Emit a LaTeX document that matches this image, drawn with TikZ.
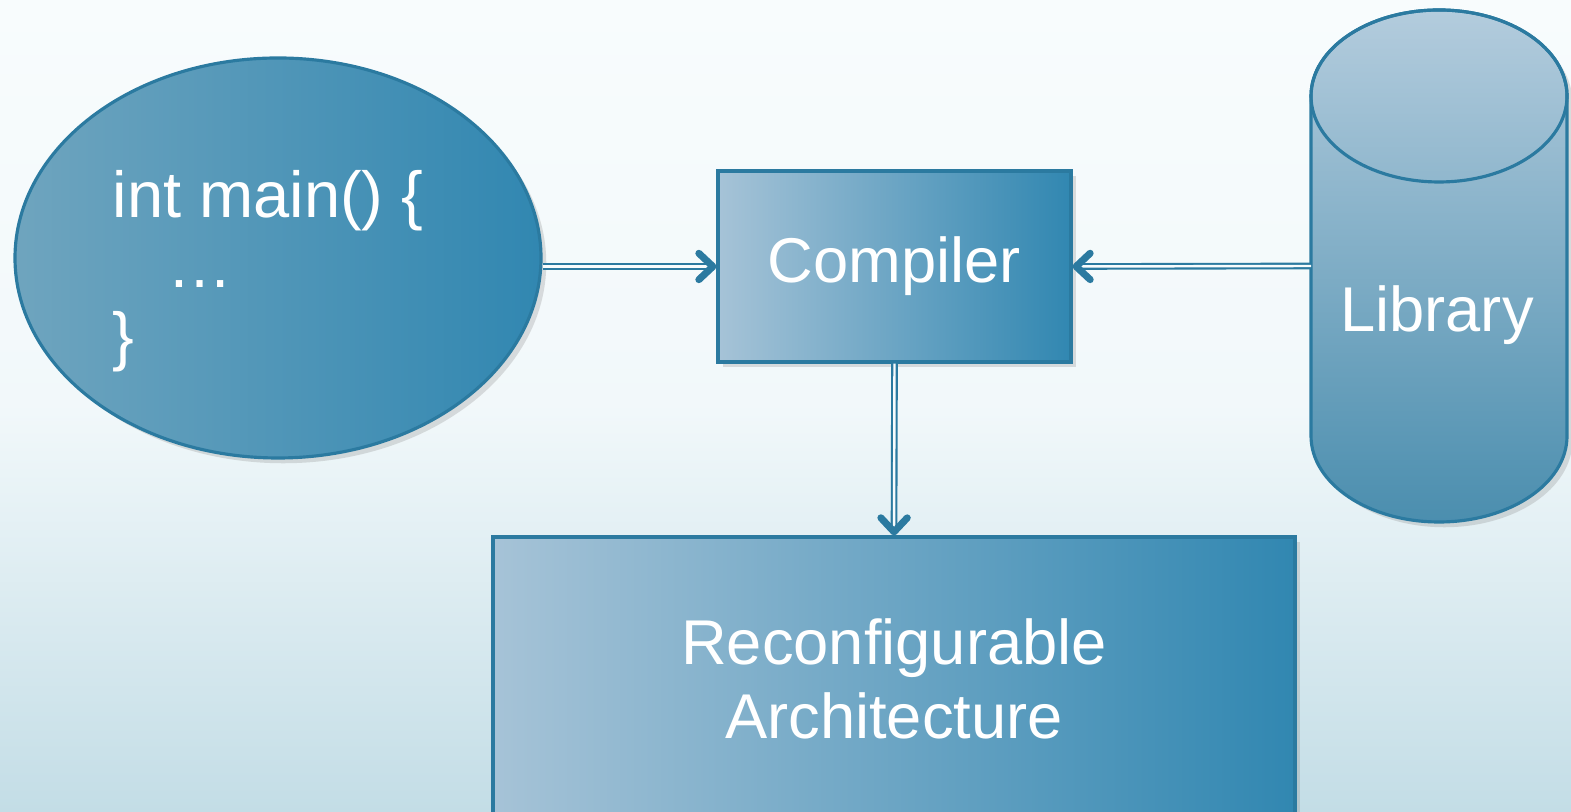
\documentclass[tikz,border=0pt]{standalone}
\usepackage{fontspec}
\setmainfont{Liberation Sans}
\usetikzlibrary{arrows.meta,shadows,shapes.geometric}

\definecolor{edge}{HTML}{2B7AA0}
\definecolor{boxlight}{HTML}{A6C3D7}
\definecolor{boxdark}{HTML}{3187B1}
\definecolor{bgtop}{HTML}{F8FCFD}
\definecolor{bgbot}{HTML}{C3DDE6}

\begin{document}
\begin{tikzpicture}[
    blk/.style={draw=edge, line width=0.9pt, left color=boxlight, right color=boxdark,
        text=white, font=\fontsize{18}{21}\selectfont, align=center,
        drop shadow={opacity=0.25, shadow xshift=1.5pt, shadow yshift=-1.5pt}},
    conn/.style={draw=edge, double=bgtop, double distance=0.7pt, line width=0.6pt,
        -{Straight Barb[length=4pt, width=7.5pt, line width=2pt, round]}},
  ]
    % background
    \useasboundingbox (0,0) rectangle (15.71,8.12);
    \shade [top color=bgtop, bottom color=bgbot, middle color=bgtop!88!bgbot] (0,0) rectangle (15.71,8.12);

    % source code
    \node (src) [blk, ellipse, minimum width=5.26cm, minimum height=4cm,
        left color=edge!68!white, right color=boxdark] at (2.78,5.54) {};
    \node (code) [anchor=west, inner sep=0pt, text=white, align=left,
        font=\fontsize{18.5}{20}\selectfont] at (1.12,5.41) {int main() \{\\\hspace*{0.55cm}…\\\}};

    % library
    \draw [edge, line width=0.9pt, top color=boxlight!85!white, bottom color=edge!85!white,
        drop shadow={opacity=0.25, shadow xshift=1.5pt, shadow yshift=-1.5pt}]
        (13.11,7.16) -- (13.11,3.76) arc [start angle=180, end angle=360, x radius=1.28, y radius=0.86]
        -- (15.67,7.16) arc [start angle=0, end angle=180, x radius=1.28, y radius=0.86] -- cycle;
    \draw [edge, line width=0.9pt] (14.39,7.16) ellipse (1.28 and 0.86);
    \node (lib) [text=white, font=\fontsize{18}{21}\selectfont] at (14.37,4.97) {Library};
    \coordinate (libw) at (13.11,5.46);

    \node (comp) [blk, minimum width=3.53cm, minimum height=1.91cm] at (8.945,5.455) {Compiler};
    \node (arch) [blk, minimum width=8.02cm, minimum height=2.83cm] at (8.94,1.335) {Reconfigurable\\Architecture};

    \draw [conn] (src.east |- comp.west) -- (comp.west);
    \draw [conn] (libw) -- (comp.east);
    \draw [conn] (comp.south) -- (arch.north);
\end{tikzpicture}
\end{document}
